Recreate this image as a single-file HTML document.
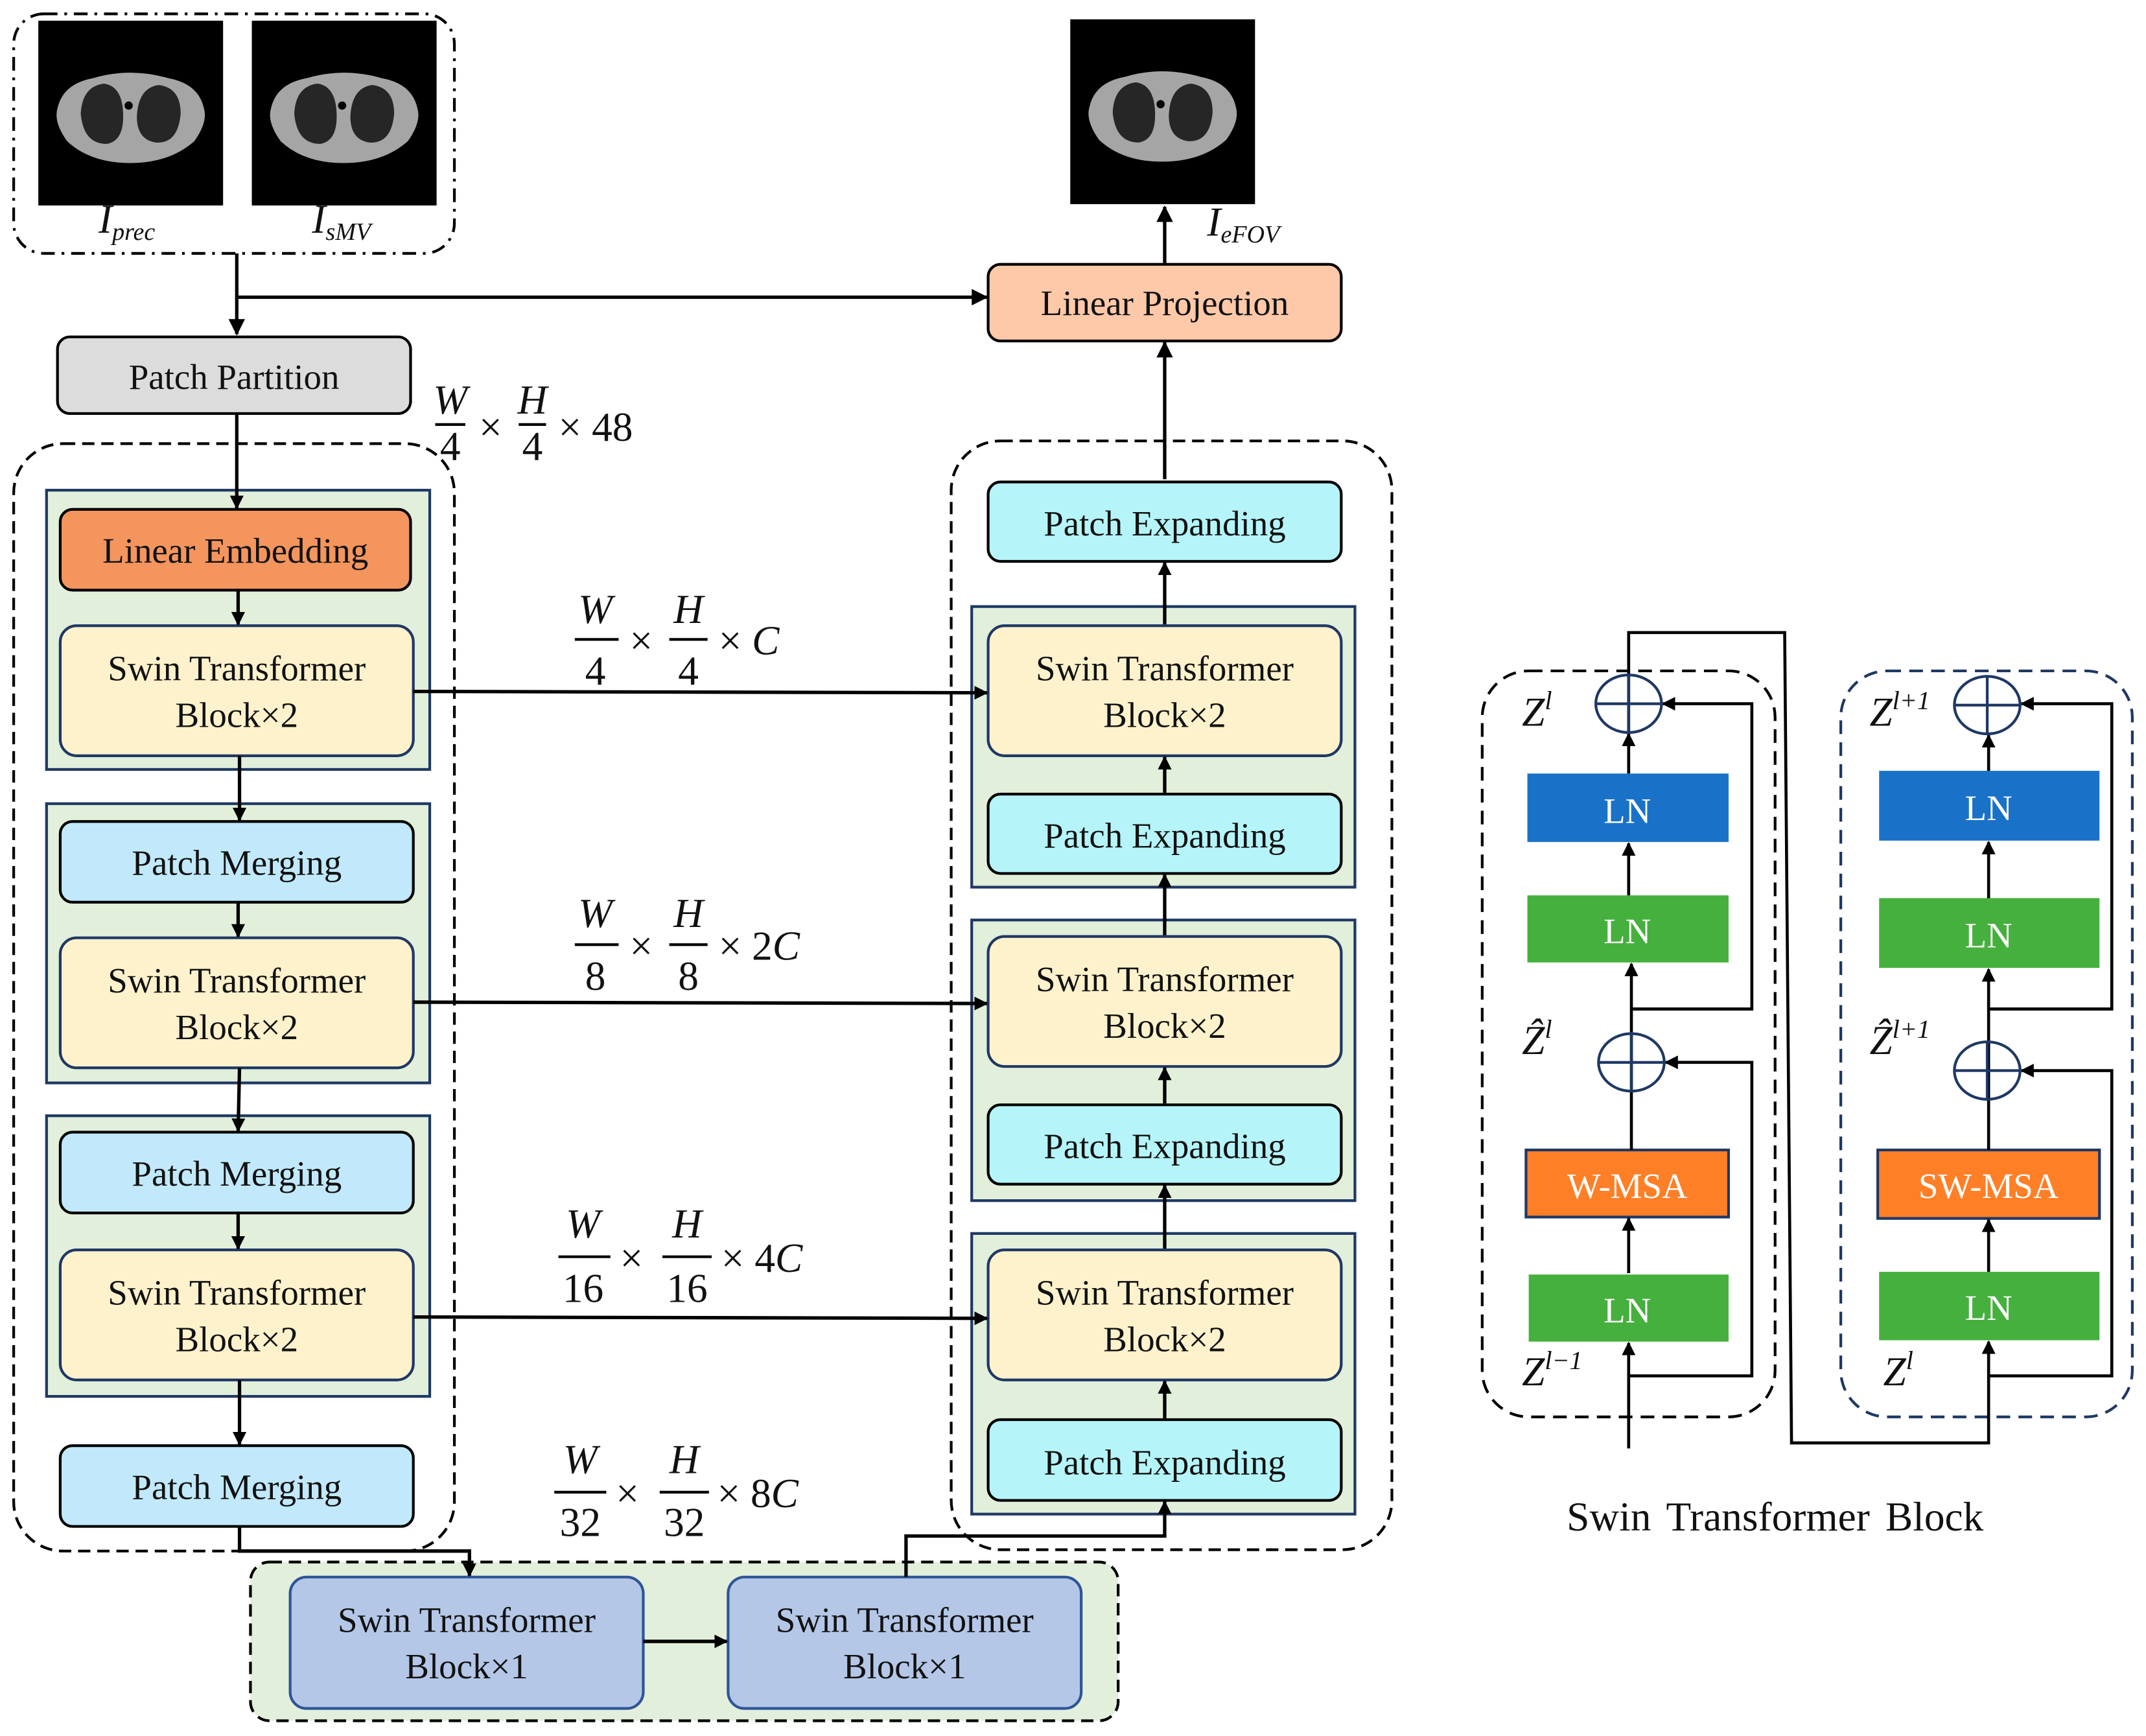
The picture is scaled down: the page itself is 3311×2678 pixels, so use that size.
<!DOCTYPE html>
<html><head><meta charset="utf-8"><style>
html,body{margin:0;padding:0;background:#fff;}
svg{display:block;}
svg text{font-family:"Liberation Serif","Times New Roman",serif;}
.bt{font-size:26px;fill:#111;text-anchor:middle;font-family:"Liberation Serif",serif;}
.m{font-family:"Liberation Serif",serif;font-style:italic;font-size:30px;fill:#111;}
.mn{font-family:"Liberation Serif",serif;font-size:30px;fill:#111;}
.ln{font-size:26px;fill:#fff;text-anchor:middle;font-family:"Liberation Serif",serif;}
</style></head><body>
<svg width="3311" height="2678" viewBox="0 0 1568 1268" xmlns="http://www.w3.org/2000/svg" font-family="Liberation Serif, serif">
<defs>
<marker id="a" markerWidth="10" markerHeight="10" refX="9" refY="5" orient="auto" markerUnits="userSpaceOnUse"><path d="M0,0 L10,5 L0,10 z" fill="#000"/></marker>
<marker id="b" markerWidth="12" markerHeight="12" refX="11" refY="6" orient="auto" markerUnits="userSpaceOnUse"><path d="M0,0 L12,6 L0,12 z" fill="#000"/></marker>
<g id="ct">
<rect x="0" y="0" width="135" height="135" fill="#000"/>
<path d="M14,64 Q18,46 40,42 Q67,34 95,42 Q117,46 121,64 Q124,74 114,88 Q96,104 67,104 Q38,104 21,88 Q11,74 14,64z" fill="#a5a5a5"/>
<path d="M48,46 Q32,48 31,68 Q33,90 50,90 Q62,88 62,70 Q62,48 48,46z" fill="#262626"/>
<path d="M88,47 Q104,49 104,68 Q102,90 86,89 Q72,87 72,70 Q73,49 88,47z" fill="#262626"/>
<circle cx="66" cy="62" r="3" fill="#000"/>
</g>
</defs>

<!-- input box -->
<rect x="10" y="10" width="322" height="175" rx="22" fill="none" stroke="#000" stroke-width="2" stroke-dasharray="10,5,2,5"/>
<use href="#ct" x="28" y="15"/>
<use href="#ct" x="184" y="15"/>
<use href="#ct" x="782" y="14"/>
<text x="72" y="170" class="m" font-size="26">I<tspan font-size="18" dy="5">prec</tspan></text>
<text x="228" y="170" class="m" font-size="26">I<tspan font-size="18" dy="5">sMV</tspan></text>
<text x="882" y="172" class="m" font-size="26">I<tspan font-size="18" dy="5">eFOV</tspan></text>

<rect x="722" y="193" width="258" height="56" rx="9" fill="#fdc9a9" stroke="#000" stroke-width="2"/>
<text x="851" y="230" class="bt">Linear Projection</text>
<rect x="42" y="246" width="258" height="56" rx="9" fill="#dcdcdc" stroke="#000" stroke-width="2"/>
<text x="171" y="284" class="bt">Patch Partition</text>

<!-- 48 label -->
<g>
<text x="329" y="302" class="m" font-size="22" text-anchor="middle">W</text>
<line x1="318" y1="310" x2="340" y2="310" stroke="#000" stroke-width="2"/>
<text x="329" y="336" class="mn" font-size="22" text-anchor="middle">4</text>
<text x="350" y="322" class="mn" font-size="28">×</text>
<text x="389" y="302" class="m" font-size="22" text-anchor="middle">H</text>
<line x1="379" y1="310" x2="399" y2="310" stroke="#000" stroke-width="2"/>
<text x="389" y="336" class="mn" font-size="22" text-anchor="middle">4</text>
<text x="408" y="322" class="mn" font-size="28">× 48</text>
</g>

<rect x="10" y="324" width="322" height="809" rx="36" fill="none" stroke="#000" stroke-width="2" stroke-dasharray="9,5"/>
<rect x="695" y="322" width="322" height="810" rx="36" fill="none" stroke="#000" stroke-width="2" stroke-dasharray="9,5"/>

<g fill="#e2efda" stroke="#1f3864" stroke-width="2">
<rect x="34" y="358" width="280" height="204"/>
<rect x="34" y="587" width="280" height="204"/>
<rect x="34" y="815" width="280" height="205"/>
<rect x="710" y="443" width="280" height="205"/>
<rect x="710" y="672" width="280" height="205"/>
<rect x="710" y="901" width="280" height="205"/>
</g>

<g stroke="#000" stroke-width="2">
<rect x="44" y="372" width="256" height="59" rx="9" fill="#f4955d"/>
<rect x="44" y="457" width="258" height="95" rx="12" fill="#fef2cc" stroke="#1f3864"/>
<rect x="44" y="600" width="258" height="59" rx="9" fill="#c1e9fb"/>
<rect x="44" y="685" width="258" height="95" rx="12" fill="#fef2cc" stroke="#1f3864"/>
<rect x="44" y="827" width="258" height="59" rx="9" fill="#c1e9fb"/>
<rect x="44" y="913" width="258" height="95" rx="12" fill="#fef2cc" stroke="#1f3864"/>
<rect x="44" y="1056" width="258" height="59" rx="9" fill="#c1e9fb"/>
<rect x="722" y="352" width="258" height="58" rx="9" fill="#b5f5fa"/>
<rect x="722" y="457" width="258" height="95" rx="12" fill="#fef2cc" stroke="#1f3864"/>
<rect x="722" y="580" width="258" height="58" rx="9" fill="#b5f5fa"/>
<rect x="722" y="684" width="258" height="95" rx="12" fill="#fef2cc" stroke="#1f3864"/>
<rect x="722" y="807" width="258" height="58" rx="9" fill="#b5f5fa"/>
<rect x="722" y="913" width="258" height="95" rx="12" fill="#fef2cc" stroke="#1f3864"/>
<rect x="722" y="1037" width="258" height="59" rx="9" fill="#b5f5fa"/>
</g>
<text x="172" y="411" class="bt">Linear Embedding</text>
<text x="173" y="497" class="bt">Swin Transformer</text><text x="173" y="531" class="bt">Block×2</text>
<text x="173" y="639" class="bt">Patch Merging</text>
<text x="173" y="725" class="bt">Swin Transformer</text><text x="173" y="759" class="bt">Block×2</text>
<text x="173" y="866" class="bt">Patch Merging</text>
<text x="173" y="953" class="bt">Swin Transformer</text><text x="173" y="987" class="bt">Block×2</text>
<text x="173" y="1095" class="bt">Patch Merging</text>
<text x="851" y="391" class="bt">Patch Expanding</text>
<text x="851" y="497" class="bt">Swin Transformer</text><text x="851" y="531" class="bt">Block×2</text>
<text x="851" y="619" class="bt">Patch Expanding</text>
<text x="851" y="724" class="bt">Swin Transformer</text><text x="851" y="758" class="bt">Block×2</text>
<text x="851" y="846" class="bt">Patch Expanding</text>
<text x="851" y="953" class="bt">Swin Transformer</text><text x="851" y="987" class="bt">Block×2</text>
<text x="851" y="1077" class="bt">Patch Expanding</text>

<!-- bottleneck -->
<rect x="183" y="1141" width="634" height="116" rx="14" fill="#e2efda" stroke="#000" stroke-width="2" stroke-dasharray="9,5"/>
<rect x="212" y="1152" width="258" height="96" rx="12" fill="#b4c7e7" stroke="#2f5597" stroke-width="2"/>
<rect x="532" y="1152" width="258" height="96" rx="12" fill="#b4c7e7" stroke="#2f5597" stroke-width="2"/>
<text x="341" y="1192" class="bt">Swin Transformer</text><text x="341" y="1226" class="bt">Block×1</text>
<text x="661" y="1192" class="bt">Swin Transformer</text><text x="661" y="1226" class="bt">Block×1</text>

<g stroke="#000" stroke-width="2.5" fill="none">
<line x1="173" y1="185" x2="173" y2="244" marker-end="url(#b)"/>
<line x1="173" y1="217" x2="721" y2="217" marker-end="url(#b)"/>
<line x1="851" y1="192" x2="851" y2="151" marker-end="url(#b)"/>
<line x1="851" y1="350" x2="851" y2="250" marker-end="url(#b)"/>
<line x1="173" y1="302" x2="173" y2="371" marker-end="url(#a)"/>
<line x1="174" y1="431" x2="174" y2="456" marker-end="url(#a)"/>
<line x1="175" y1="552" x2="175" y2="599" marker-end="url(#a)"/>
<line x1="174" y1="659" x2="174" y2="684" marker-end="url(#a)"/>
<line x1="175" y1="780" x2="174" y2="826" marker-end="url(#a)"/>
<line x1="174" y1="886" x2="174" y2="912" marker-end="url(#a)"/>
<line x1="175" y1="1008" x2="175" y2="1055" marker-end="url(#a)"/>
<line x1="851" y1="456" x2="851" y2="411" marker-end="url(#a)"/>
<line x1="851" y1="579" x2="851" y2="553" marker-end="url(#a)"/>
<line x1="851" y1="683" x2="851" y2="639" marker-end="url(#a)"/>
<line x1="851" y1="806" x2="851" y2="780" marker-end="url(#a)"/>
<line x1="851" y1="912" x2="851" y2="866" marker-end="url(#a)"/>
<line x1="851" y1="1036" x2="851" y2="1009" marker-end="url(#a)"/>
<line x1="302" y1="505" x2="721" y2="506" marker-end="url(#a)"/>
<line x1="302" y1="732" x2="721" y2="733" marker-end="url(#a)"/>
<line x1="302" y1="962" x2="721" y2="963" marker-end="url(#a)"/>
<polyline points="175,1115 175,1133 343,1133 343,1151" marker-end="url(#a)"/>
<polyline points="662,1152 662,1122 851,1122 851,1097" marker-end="url(#a)"/>
<line x1="470" y1="1199" x2="531" y2="1199" marker-end="url(#a)"/>
</g>

<!-- dim labels -->
<g>
<text x="435" y="455" class="m" text-anchor="middle">W</text><line x1="420" y1="467" x2="452" y2="467" stroke="#000" stroke-width="2"/><text x="435" y="500" class="mn" text-anchor="middle">4</text>
<text x="460" y="478" class="mn">×</text>
<text x="503" y="455" class="m" text-anchor="middle">H</text><line x1="489" y1="467" x2="517" y2="467" stroke="#000" stroke-width="2"/><text x="503" y="500" class="mn" text-anchor="middle">4</text>
<text x="525" y="478" class="mn">× <tspan class="m">C</tspan></text>

<text x="435" y="677" class="m" text-anchor="middle">W</text><line x1="420" y1="690" x2="452" y2="690" stroke="#000" stroke-width="2"/><text x="435" y="723" class="mn" text-anchor="middle">8</text>
<text x="460" y="701" class="mn">×</text>
<text x="503" y="677" class="m" text-anchor="middle">H</text><line x1="489" y1="690" x2="517" y2="690" stroke="#000" stroke-width="2"/><text x="503" y="723" class="mn" text-anchor="middle">8</text>
<text x="525" y="701" class="mn">× 2<tspan class="m">C</tspan></text>

<text x="426" y="904" class="m" text-anchor="middle">W</text><line x1="408" y1="918" x2="446" y2="918" stroke="#000" stroke-width="2"/><text x="426" y="951" class="mn" text-anchor="middle">16</text>
<text x="453" y="929" class="mn">×</text>
<text x="502" y="904" class="m" text-anchor="middle">H</text><line x1="484" y1="918" x2="520" y2="918" stroke="#000" stroke-width="2"/><text x="502" y="951" class="mn" text-anchor="middle">16</text>
<text x="527" y="929" class="mn">× 4<tspan class="m">C</tspan></text>

<text x="424" y="1076" class="m" text-anchor="middle">W</text><line x1="405" y1="1090" x2="443" y2="1090" stroke="#000" stroke-width="2"/><text x="424" y="1122" class="mn" text-anchor="middle">32</text>
<text x="450" y="1101" class="mn">×</text>
<text x="500" y="1076" class="m" text-anchor="middle">H</text><line x1="482" y1="1090" x2="518" y2="1090" stroke="#000" stroke-width="2"/><text x="500" y="1122" class="mn" text-anchor="middle">32</text>
<text x="524" y="1101" class="mn">× 8<tspan class="m">C</tspan></text>
</g>

<!-- Swin block detail -->
<rect x="1083" y="490" width="214" height="545" rx="34" fill="none" stroke="#000" stroke-width="2" stroke-dasharray="10,6"/>
<rect x="1345" y="490" width="213" height="545" rx="34" fill="none" stroke="#1f3864" stroke-width="2" stroke-dasharray="10,6"/>

<rect x="1116" y="565" width="147" height="50" fill="#1a72c8"/>
<rect x="1116" y="654" width="147" height="49" fill="#45b03d"/>
<rect x="1115" y="840" width="148" height="49" fill="#ff7f27" stroke="#1f3864" stroke-width="2"/>
<rect x="1117" y="931" width="146" height="49" fill="#45b03d"/>
<rect x="1373" y="563" width="161" height="51" fill="#1a72c8"/>
<rect x="1373" y="656" width="161" height="51" fill="#45b03d"/>
<rect x="1372" y="840" width="162" height="50" fill="#ff7f27" stroke="#1f3864" stroke-width="2"/>
<rect x="1373" y="929" width="161" height="50" fill="#45b03d"/>
<text x="1189" y="601" class="ln">LN</text>
<text x="1189" y="689" class="ln">LN</text>
<text x="1189" y="875" class="ln">W-MSA</text>
<text x="1189" y="966" class="ln">LN</text>
<text x="1453" y="599" class="ln">LN</text>
<text x="1453" y="692" class="ln">LN</text>
<text x="1453" y="875" class="ln">SW-MSA</text>
<text x="1453" y="964" class="ln">LN</text>

<g stroke="#000" stroke-width="2.2" fill="none">
<line x1="1190" y1="1058" x2="1190" y2="981" marker-end="url(#a)"/>
<polyline points="1190,1005 1280,1005 1280,776 1217,776" marker-end="url(#a)"/>
<line x1="1190" y1="930" x2="1190" y2="890" marker-end="url(#a)"/>
<line x1="1192" y1="840" x2="1192" y2="754"/>
<line x1="1192" y1="754" x2="1192" y2="704" marker-end="url(#a)"/>
<polyline points="1192,737 1280,737 1280,514 1215,514" marker-end="url(#a)"/>
<line x1="1190" y1="654" x2="1190" y2="616" marker-end="url(#a)"/>
<line x1="1190" y1="565" x2="1190" y2="536" marker-end="url(#a)"/>
<polyline points="1190,536 1190,462 1304,462 1309,1054 1453,1054 1453,980" marker-end="url(#a)"/>
<polyline points="1453,1005 1543,1005 1543,782 1477,782" marker-end="url(#a)"/>
<line x1="1453" y1="929" x2="1453" y2="891" marker-end="url(#a)"/>
<line x1="1453" y1="840" x2="1453" y2="760"/>
<line x1="1453" y1="760" x2="1453" y2="708" marker-end="url(#a)"/>
<polyline points="1453,737 1543,737 1543,514 1477,514" marker-end="url(#a)"/>
<line x1="1453" y1="656" x2="1453" y2="615" marker-end="url(#a)"/>
<line x1="1453" y1="563" x2="1453" y2="537" marker-end="url(#a)"/>
</g>
<g stroke="#1f3864" stroke-width="2" fill="none">
<ellipse cx="1190" cy="514" rx="24" ry="21"/><line x1="1166" y1="514" x2="1214" y2="514"/><line x1="1190" y1="493" x2="1190" y2="535"/>
<ellipse cx="1192" cy="776" rx="24" ry="21"/><line x1="1168" y1="776" x2="1216" y2="776"/><line x1="1192" y1="755" x2="1192" y2="797"/>
<ellipse cx="1452" cy="515" rx="24" ry="21"/><line x1="1428" y1="515" x2="1476" y2="515"/><line x1="1452" y1="494" x2="1452" y2="536"/>
<ellipse cx="1452" cy="782" rx="24" ry="21"/><line x1="1428" y1="782" x2="1476" y2="782"/><line x1="1452" y1="761" x2="1452" y2="803"/>
</g>
<text x="1112" y="530" class="m" font-size="26">Z<tspan font-size="19" dy="-12">l</tspan></text>
<text x="1112" y="770" class="m" font-size="26">Ẑ<tspan font-size="19" dy="-12">l</tspan></text>
<text x="1112" y="1012" class="m" font-size="26">Z<tspan font-size="19" dy="-12">l−1</tspan></text>
<text x="1366" y="530" class="m" font-size="26">Z<tspan font-size="19" dy="-12">l+1</tspan></text>
<text x="1366" y="770" class="m" font-size="26">Ẑ<tspan font-size="19" dy="-12">l+1</tspan></text>
<text x="1376" y="1012" class="m" font-size="26">Z<tspan font-size="19" dy="-12">l</tspan></text>
<text x="1297" y="1118" font-size="30" text-anchor="middle" fill="#111" word-spacing="4" font-family="Liberation Serif, serif">Swin Transformer Block</text>
</svg>
</body></html>
